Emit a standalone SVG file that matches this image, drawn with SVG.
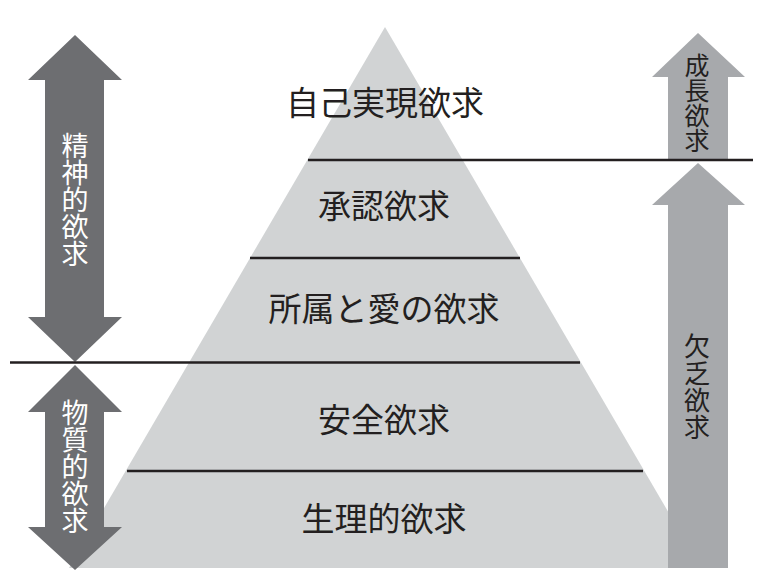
<svg xmlns="http://www.w3.org/2000/svg" width="766" height="579" viewBox="0 0 766 579">
  <style>
    .lvl { font-family: "Noto Sans CJK JP", "Noto Sans CJK SC", sans-serif; font-size: 33px; fill: #231f20; text-anchor: middle; }
    .vt { font-family: "Noto Sans CJK JP", "Noto Sans CJK SC", sans-serif; writing-mode: vertical-rl; text-anchor: middle; }
    .vdark { font-size: 27px; fill: #ffffff; }
    .vlight { font-size: 26px; fill: #231f20; }
    .darrow { fill: #6d6e71; }
    .larrow { fill: #a7a9ac; }
    .pyr { fill: #d1d3d4; }
    .sep { stroke: #231f20; stroke-width: 2.5; fill: none; }
  </style>
  <rect width="766" height="579" fill="#ffffff"/>

  <g id="pyramid">
    <polygon class="pyr" points="385,27 701,568 69,568"/>
  </g>

  <g id="level-self-actualization">
    <text class="lvl" x="385" y="115">自己実現欲求</text>
  </g>
  <g id="level-esteem">
    <text class="lvl" x="384" y="218">承認欲求</text>
  </g>
  <g id="level-love">
    <text class="lvl" x="384" y="320.5">所属と愛の欲求</text>
  </g>
  <g id="level-safety">
    <text class="lvl" x="384" y="432">安全欲求</text>
  </g>
  <g id="level-physiological">
    <text class="lvl" x="384" y="530.5">生理的欲求</text>
  </g>

  <g id="arrow-mental">
    <polygon class="darrow" points="75,35 122,80 104,80 104,317 122,317 75,362 28,317 45,317 45,80 28,80"/>
    <text class="vt vdark" x="75" y="200">精神的欲求</text>
  </g>

  <g id="arrow-material">
    <polygon class="darrow" points="75,365 122,412 104,412 104,527 122,527 75,570 28,527 45,527 45,412 28,412"/>
    <text class="vt vdark" x="75" y="466.5">物質的欲求</text>
  </g>

  <g id="arrow-growth">
    <polygon class="larrow" points="698,33 745,77 728,77 728,159 668,159 668,77 652,77"/>
    <text class="vt vlight" x="697" y="102.5" style="font-size:25px">成長欲求</text>
  </g>

  <g id="arrow-deficiency">
    <polygon class="larrow" points="698,163 745,205 728,205 728,568 668,568 668,205 652,205"/>
    <text class="vt vlight" x="697" y="387.5" style="letter-spacing:1px">欠乏欲求</text>
  </g>

  <g id="connectors">
    <line class="sep" x1="308" y1="160" x2="753" y2="160"/>
    <line class="sep" x1="250" y1="258" x2="520" y2="258"/>
    <line class="sep" x1="10" y1="362.5" x2="580" y2="362.5"/>
    <line class="sep" x1="127" y1="471" x2="643" y2="471"/>
  </g>
</svg>
